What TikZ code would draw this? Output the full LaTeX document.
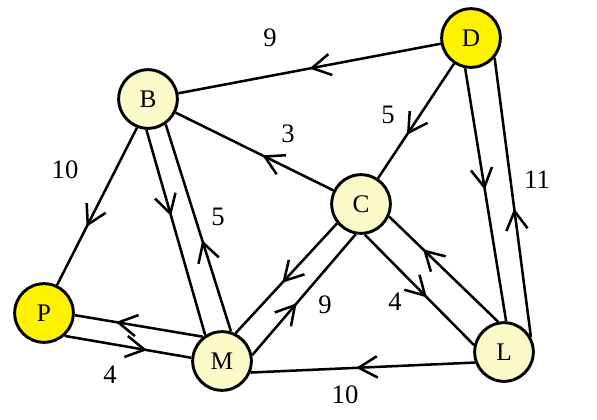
\documentclass[tikz,border=0pt]{standalone}
\usepackage{fontspec}
\setmainfont{Liberation Serif}
\usetikzlibrary{arrows.meta,decorations.markings}
\definecolor{gold}{RGB}{255,242,0}
\definecolor{pale}{RGB}{250,250,200}
\tikzset{
  city/.style={circle, draw, line width=2.2pt, minimum size=44pt, inner sep=0pt,
    fill=pale, font=\fontsize{19}{22}\selectfont},
  hub/.style={city, fill=gold},
  road/.style={line width=1.9pt},
  flow/.style={road, postaction={decorate}, decoration={markings,
    mark=at position #1 with {\arrow{Straight Barb[length=14pt,width=16pt,line width=1.9pt]}}}},
  flow/.default=0.5,
  weight/.style={font=\fontsize{20}{24}\selectfont}
}
\begin{document}
\begin{tikzpicture}[x=0.75pt, y=-0.75pt]
    \useasboundingbox (0,0) rectangle (597,419);

    % Draw the cities
    \node[hub] (D) at (471,38) {D};
    \node[city] (B) at (148,99) {B};
    \node[city] (C) at (361,204) {C};
    \node[hub] (P) at (44,313) {P};
    \node[city] (M) at (222,361) {M};
    \node[city] (L) at (504,352) {L};

    % Single roads
    \draw[flow=0.5] (D) -- (B);
    \draw[flow=0.45] (C) -- (B);
    \draw[flow=0.62] (D) -- (C);
    \draw[flow=0.63] (B.-111) -- (P.65);
    \draw[flow=0.53] (L.-160) -- (M.-22);

    % Roads in both directions
    \draw[flow=0.48] (D.-101) -- (L.86);
    \draw[flow=0.46] (L.29) -- (D.-40);
    \draw[flow=0.42] (B.-93) -- (M.123);
    \draw[flow=0.44] (M.73) -- (B.-55);
    \draw[flow=0.68] (M.128) -- (P.-4);
    \draw[flow=0.65] (P.-48) -- (M.174);
    \draw[flow=0.54] (C.-141) -- (M.64);
    \draw[flow=0.43] (M.11) -- (C.-100);
    \draw[flow=0.69] (L.101) -- (C.-24);
    \draw[flow=0.57] (C.-83) -- (L.167);

    % Weights
    \node[weight] (wDB) at (270,38) {9};
    \node[weight] (wCB) at (288,134) {3};
    \node[weight] (wDC) at (388,115) {5};
    \node[weight] (wDL) at (537,180) {11};
    \node[weight] (wBP) at (65,170) {10};
    \node[weight] (wBM) at (218,217) {5};
    \node[weight] (wCM) at (325,305) {9};
    \node[weight] (wCL) at (395,302) {4};
    \node[weight] (wPM) at (110,375) {4};
    \node[weight] (wLM) at (345,395) {10};
\end{tikzpicture}
\end{document}
